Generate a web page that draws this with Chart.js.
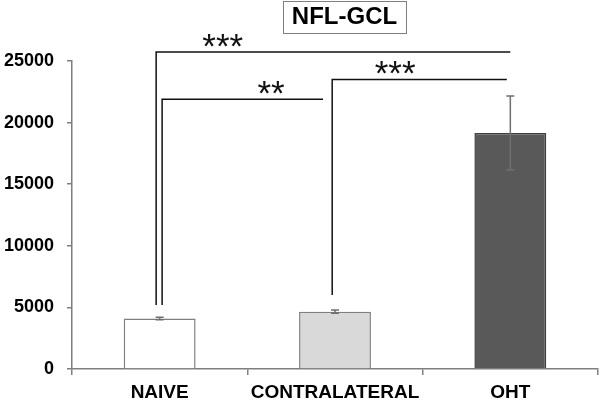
<!DOCTYPE html>
<html>
<head>
<meta charset="utf-8">
<script src="https://cdn.jsdelivr.net/npm/chart.js@4/dist/chart.umd.min.js"></script>
<style>
html, body { margin: 0; padding: 0; background: #fff; }
</style>
</head>
<body>
<canvas id="myChart" width="600" height="401"></canvas>
<script>
// data
const categories = ['NAIVE', 'CONTRALATERAL', 'OHT'];
const means = [4100, 4650, 19150];
const errors = [100, 130, 3000];
const barColors = ['#ffffff', '#d9d9d9', '#595959'];
const barBorders = ['#7f7f7f', '#7f7f7f', '#3f3f3f'];
const yTicks = [0, 5000, 10000, 15000, 20000, 25000];

// significance brackets (x in category units, y in data units)
const bracketStart = [-0.02, 0.014, 0.984];
const bracketEnd = [2.0, 0.932, 1.98];
const bracketTop = [25730, 21900, 23500];
const bracketFoot = [5190, 5190, 6000];
const bracketStars = ['***', '**', '***'];
const starX = [0.36, 0.635, 1.343];

const titleText = 'NFL-GCL';

// draws error bars, brackets, stars and the boxed title
const extras = {
    id: 'extras',
    afterDatasetsDraw(chart) {
        const ctx = chart.ctx;
        const x = chart.scales.x;
        const y = chart.scales.y;
        const step = x.getPixelForValue(1) - x.getPixelForValue(0);
        const catX = v => x.getPixelForValue(0) + v * step;
        ctx.save();

        // error bars
        ctx.strokeStyle = '#6f6f6f';
        ctx.lineWidth = 1.5;
        means.forEach((m, i) => {
            const px = x.getPixelForValue(i);
            const top = y.getPixelForValue(m + errors[i]);
            const bot = y.getPixelForValue(m - errors[i]);
            ctx.beginPath();
            ctx.moveTo(px, top); ctx.lineTo(px, bot);
            ctx.moveTo(px - 4, top); ctx.lineTo(px + 4, top);
            ctx.moveTo(px - 4, bot); ctx.lineTo(px + 4, bot);
            ctx.stroke();
        });

        // brackets
        ctx.strokeStyle = '#111';
        ctx.lineWidth = 1.5;
        bracketStars.forEach((s, i) => {
            const x0 = catX(bracketStart[i]);
            const x1 = catX(bracketEnd[i]);
            const yt = y.getPixelForValue(bracketTop[i]);
            const yf = y.getPixelForValue(bracketFoot[i]);
            ctx.beginPath();
            ctx.moveTo(x0, yf); ctx.lineTo(x0, yt); ctx.lineTo(x1, yt);
            ctx.stroke();

            ctx.fillStyle = '#111';
            ctx.font = '35px "Liberation Sans", Arial, sans-serif';
            ctx.textAlign = 'center';
            ctx.textBaseline = 'alphabetic';
            const mt = ctx.measureText(s);
            const cy = yt - 12;
            ctx.fillText(s, catX(starX[i]), cy + (mt.actualBoundingBoxAscent - mt.actualBoundingBoxDescent) / 2);
        });

        // title in a box
        ctx.font = 'bold 24px "Liberation Sans", Arial, sans-serif';
        ctx.textAlign = 'center';
        ctx.textBaseline = 'middle';
        ctx.fillStyle = '#000';
        ctx.fillText(titleText, 344.5, 17);
        ctx.strokeStyle = '#7f7f7f';
        ctx.lineWidth = 1;
        ctx.strokeRect(283.5, 1.5, 123, 32);

        ctx.restore();
    }
};

const ctx = document.getElementById('myChart').getContext('2d');
new Chart(ctx, {
    type: 'bar',
    data: {
        labels: categories,
        datasets: [{
            data: means,
            backgroundColor: barColors,
            borderColor: barBorders,
            borderWidth: 1.5,
            borderSkipped: 'bottom',
            barPercentage: 0.41,
            categoryPercentage: 1.0
        }]
    },
    options: {
        responsive: false,
        animation: false,
        layout: { padding: { top: 61, right: 2, left: 0, bottom: 0 } },
        plugins: {
            legend: { display: false },
            tooltip: { enabled: false }
        },
        scales: {
            x: {
                grid: { drawOnChartArea: false, offset: true, tickLength: 6, color: '#7f7f7f', lineWidth: 1.5 },
                border: { color: '#7f7f7f', width: 1.5 },
                ticks: { color: '#000', padding: 6, font: { family: '"Liberation Sans", Arial', size: 19, weight: 'bold' } },
                afterFit: s => { s.height = 32; }
            },
            y: {
                min: 0,
                max: 25000,
                afterBuildTicks: s => { s.ticks = yTicks.map(v => ({ value: v })); },
                grid: { drawOnChartArea: false, tickLength: 5, color: '#7f7f7f', lineWidth: 1.5 },
                border: { color: '#7f7f7f', width: 1.5 },
                ticks: {
                    color: '#000',
                    padding: 13,
                    font: { family: '"Liberation Sans", Arial', size: 18, weight: 'bold' },
                    callback: v => String(v)
                },
                afterFit: s => { s.width = 72; }
            }
        }
    },
    plugins: [extras]
});
</script>
</body>
</html>
